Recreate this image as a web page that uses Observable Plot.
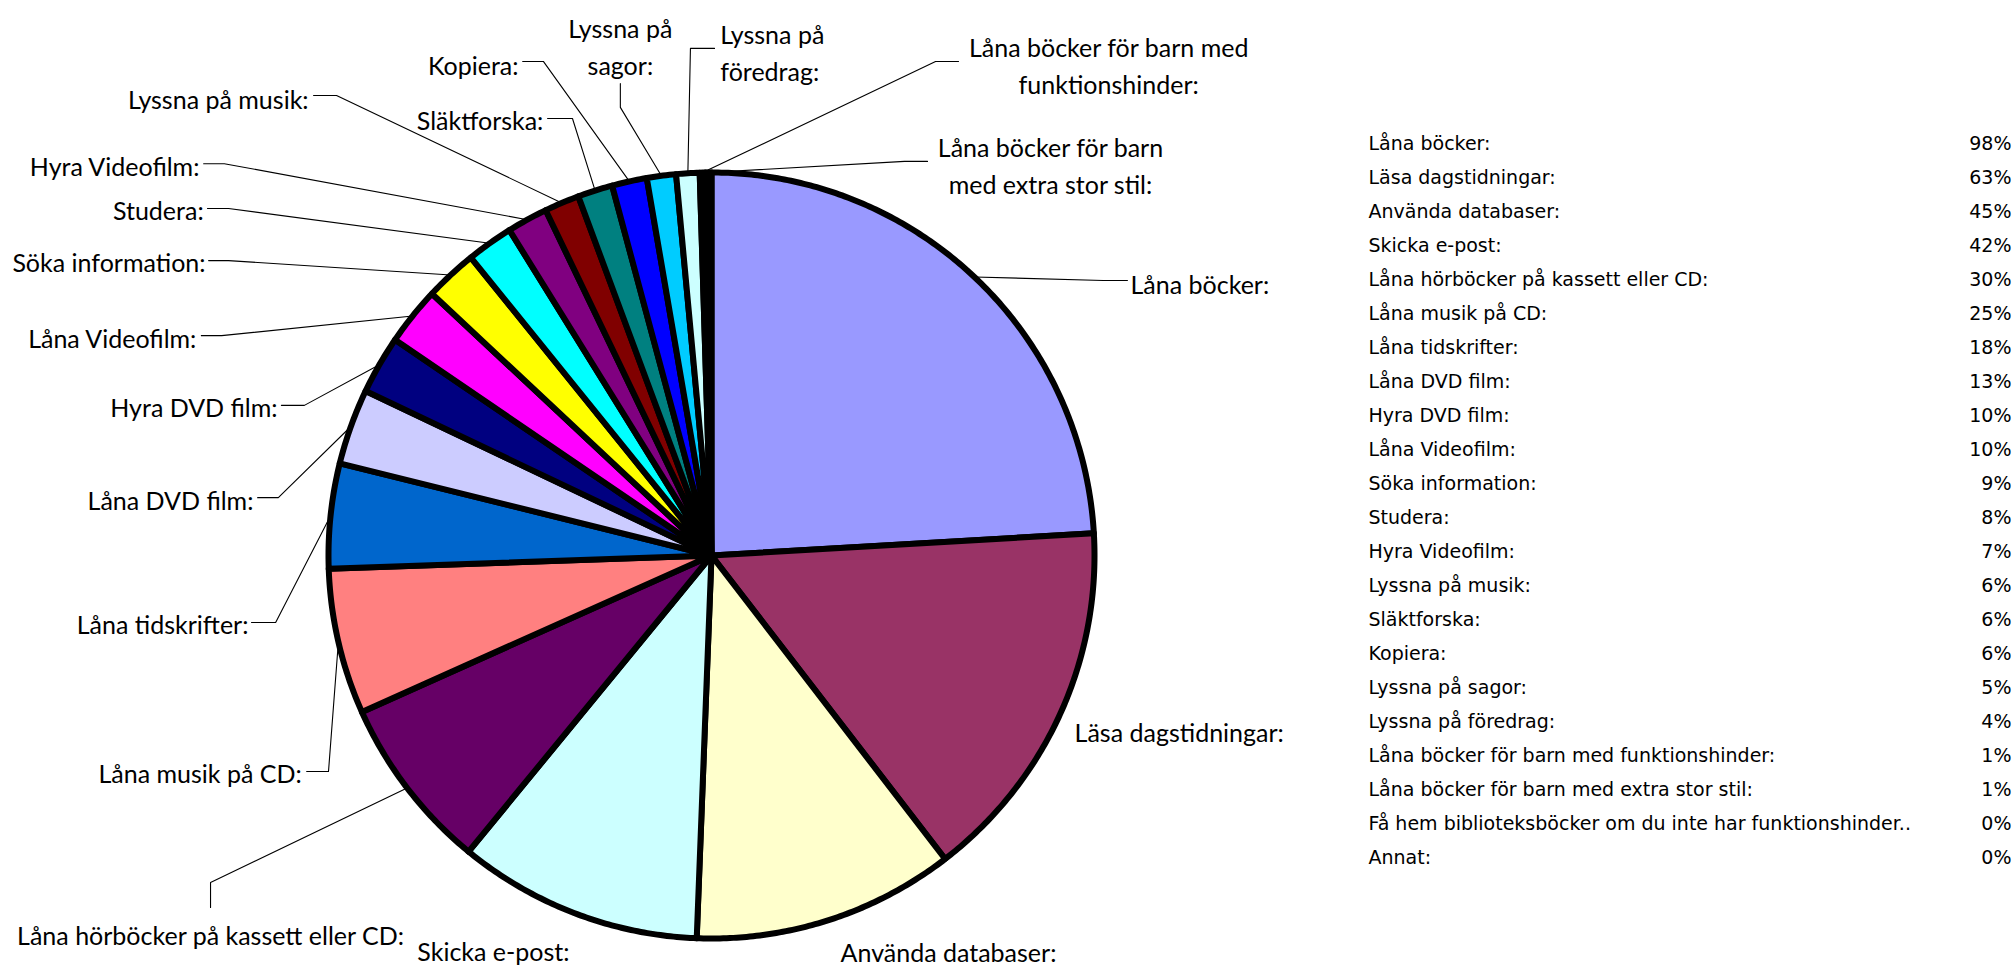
<!DOCTYPE html>
<html><head><meta charset="utf-8">
<script src="https://cdn.jsdelivr.net/npm/d3@7"></script>
<script src="https://cdn.jsdelivr.net/npm/@observablehq/plot@0.6"></script>
<style>
html,body{margin:0;padding:0;background:#fff;overflow:hidden}
#chart{position:relative;width:2015px;height:965px;background:#fff}
#pie{position:absolute;left:0;top:0}
#legend{position:absolute;left:1340px;top:0}
</style></head><body><div id="chart"><div id="pie"></div><div id="legend"></div></div>
<script>
// ---- data ----
const categories = [
  "Låna böcker:", "Läsa dagstidningar:", "Använda databaser:", "Skicka e-post:",
  "Låna hörböcker på kassett eller CD:", "Låna musik på CD:", "Låna tidskrifter:",
  "Låna DVD film:", "Hyra DVD film:", "Låna Videofilm:", "Söka information:", "Studera:",
  "Hyra Videofilm:", "Lyssna på musik:", "Släktforska:", "Kopiera:", "Lyssna på sagor:",
  "Lyssna på föredrag:", "Låna böcker för barn med funktionshinder:",
  "Låna böcker för barn med extra stor stil:",
  "Få hem biblioteksböcker om du inte har funktionshinder..", "Annat:"
];
const percents = [98, 63, 45, 42, 30, 25, 18, 13, 10, 10, 9, 8, 7, 6, 6, 6, 5, 4, 1, 1, 0, 0];

// ---- style ----
const palette = ["#9999FF","#993366","#FFFFCC","#CCFFFF","#660066","#FF8080","#0066CC","#CCCCFF",
  "#000080","#FF00FF","#FFFF00","#00FFFF","#800080","#800000","#008080","#0000FF","#00CCFF",
  "#CCFFFF","#CCFFCC","#FFFF99","#99CCFF","#FF99CC"];

// ---- label layout (pie-radius units, y up): text point, anchor, leader elbow & foot, line break ----
const labelLayout = [
  {t:[1.094,0.713], a:"start", e:[1.023,0.718], f:[1.086,0.718]},
  {t:[0.948,-0.457], a:"start"},
  {t:[0.337,-1.031], a:"start"},
  {t:[-0.768,-1.029], a:"start"},
  {t:[-1.308,-0.987], a:"middle", e:[-1.308,-0.854], f:[-1.308,-0.919]},
  {t:[-1.070,-0.564], a:"end", e:[-1.000,-0.564], f:[-1.057,-0.564]},
  {t:[-1.209,-0.175], a:"end", e:[-1.138,-0.175], f:[-1.201,-0.175]},
  {t:[-1.196,0.151], a:"end", e:[-1.131,0.151], f:[-1.185,0.151]},
  {t:[-1.133,0.392], a:"end", e:[-1.063,0.392], f:[-1.123,0.392]},
  {t:[-1.345,0.572], a:"end", e:[-1.279,0.574], f:[-1.332,0.574]},
  {t:[-1.321,0.770], a:"end", e:[-1.261,0.770], f:[-1.313,0.770]},
  {t:[-1.326,0.906], a:"end", e:[-1.261,0.906], f:[-1.316,0.906]},
  {t:[-1.337,1.021], a:"end", e:[-1.272,1.023], f:[-1.326,1.023]},
  {t:[-1.052,1.198], a:"end", e:[-0.979,1.201], f:[-1.039,1.201]},
  {t:[-0.439,1.141], a:"end", e:[-0.363,1.141], f:[-0.428,1.141]},
  {t:[-0.504,1.285], a:"end", e:[-0.439,1.290], f:[-0.493,1.290]},
  {t:[-0.238,1.334], a:"middle", e:[-0.238,1.170], f:[-0.238,1.232], brk:2},
  {t:[0.023,1.319], a:"start", e:[-0.055,1.324], f:[0.008,1.324], brk:2},
  {t:[1.037,1.285], a:"middle", e:[0.585,1.290], f:[0.645,1.290], brk:5},
  {t:[0.885,1.024], a:"middle", e:[0.504,1.029], f:[0.564,1.029], brk:4}
];

const cx = 711, cy = 555, R = 383, pieW = 1340, H = 965;

const data = categories.map((name, i) => ({name, value: percents[i], color: palette[i]}));
const arcs = d3.pie().sort(null).value(d => d.value).startAngle(0).endAngle(2 * Math.PI)(data);

const polys = [];
const labels = [];
const leaders = [];
arcs.forEach((a, i) => {
  if (a.endAngle - a.startAngle <= 0) return;
  const name = a.data.name;
  const n = Math.max(2, Math.ceil((a.endAngle - a.startAngle) / (Math.PI / 360)));
  polys.push({name, x: 0, y: 0});
  for (let k = 0; k <= n; k++) {
    const t = a.startAngle + (a.endAngle - a.startAngle) * k / n;
    polys.push({name, x: Math.sin(t), y: Math.cos(t)});
  }
  polys.push({name, x: 0, y: 0});
  const L = labelLayout[i];
  if (!L) return;
  let text = name;
  if (L.brk) {
    const w = name.split(" ");
    text = w.slice(0, L.brk).join(" ") + "\n" + w.slice(L.brk).join(" ");
  }
  labels.push({name, text, x: L.t[0], y: L.t[1], anchor: L.a});
  if (L.e) {
    const mid = (a.startAngle + a.endAngle) / 2;
    leaders.push({name, x: Math.sin(mid), y: Math.cos(mid)});
    leaders.push({name, x: L.e[0], y: L.e[1]});
    leaders.push({name, x: L.f[0], y: L.f[1]});
  }
});

const labelFont = {fontFamily: "Lato", fontSize: 25, fill: "black", lineHeight: 1.48};
const pie = Plot.plot({
  width: pieW, height: H, margin: 0,
  style: {background: "white", overflow: "visible"},
  x: {domain: [-1, 1], range: [cx - R, cx + R], axis: null},
  y: {domain: [-1, 1], range: [cy + R, cy - R], axis: null},
  color: {domain: categories, range: palette},
  marks: [
    Plot.line(leaders, {x: "x", y: "y", z: "name", stroke: "black", strokeWidth: 1.1, curve: "linear"}),
    Plot.line(polys, {x: "x", y: "y", z: "name", fill: "name", stroke: "black", strokeWidth: 6, strokeLinejoin: "round", curve: "linear"}),
    Plot.text(labels.filter(d => d.anchor === "start"), {x: "x", y: "y", text: "text", textAnchor: "start", ...labelFont}),
    Plot.text(labels.filter(d => d.anchor === "end"), {x: "x", y: "y", text: "text", textAnchor: "end", ...labelFont}),
    Plot.text(labels.filter(d => d.anchor === "middle"), {x: "x", y: "y", text: "text", textAnchor: "middle", ...labelFont})
  ]
});
document.getElementById("pie").appendChild(pie);

const legendFont = {fontFamily: "DejaVu Sans", fontSize: 19, fill: "black"};
const legend = Plot.plot({
  width: 2015 - pieW, height: H, marginLeft: 28, marginRight: 4, marginTop: 0, marginBottom: 0,
  style: {background: "white", overflow: "visible"},
  y: {type: "point", domain: categories, range: [137, 863], padding: 0, axis: null},
  marks: [
    Plot.text(data, {y: "name", text: "name", frameAnchor: "left", textAnchor: "start", ...legendFont}),
    Plot.text(data, {y: "name", text: d => d.value + "%", frameAnchor: "right", textAnchor: "end", ...legendFont})
  ]
});
document.getElementById("legend").appendChild(legend);
</script></body></html>
